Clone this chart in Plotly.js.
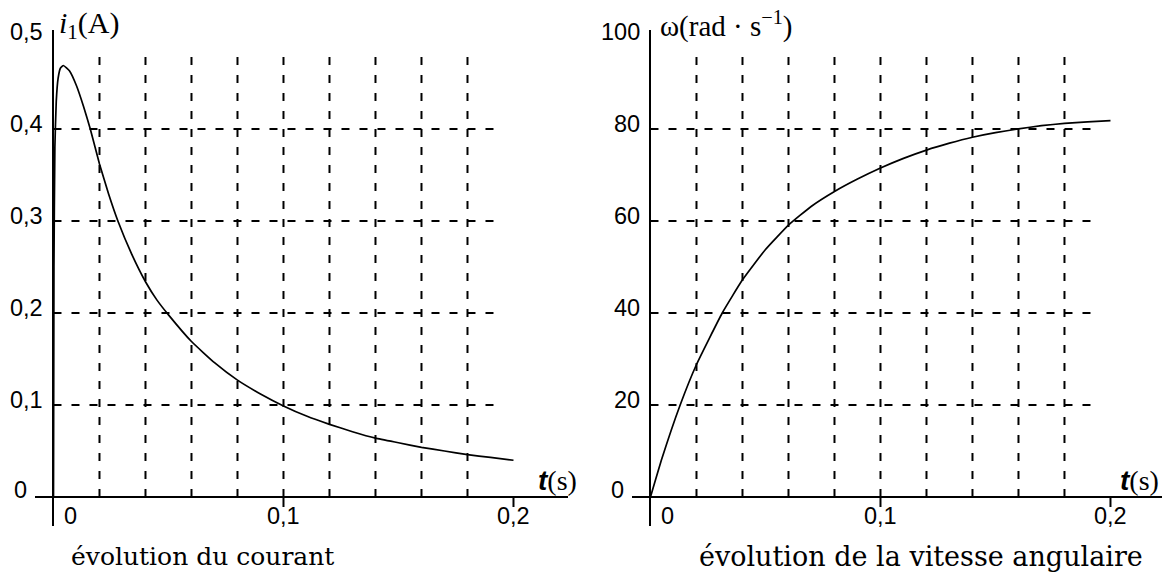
<!DOCTYPE html>
<html>
<head>
<meta charset="utf-8">
<script src="https://cdn.plot.ly/plotly-3.0.1.min.js"></script>
<style>html,body{margin:0;padding:0;background:#fff;}#chart{width:1164px;height:582px;}</style>
</head>
<body>
<div id="chart"></div>
<script>
// ---- Data ----
const tCurrent = [0, 0.0002, 0.0006, 0.0012, 0.002, 0.003, 0.0043, 0.007, 0.010, 0.013, 0.016, 0.020, 0.024, 0.028, 0.034, 0.040, 0.045, 0.050, 0.060, 0.070, 0.080, 0.090, 0.100, 0.110, 0.120, 0.130, 0.140, 0.150, 0.160, 0.170, 0.180, 0.190, 0.200];
const iCurrent = [0, 0.25, 0.38, 0.43, 0.455, 0.466, 0.469, 0.463, 0.447, 0.425, 0.400, 0.362, 0.329, 0.300, 0.264, 0.234, 0.214, 0.198, 0.169, 0.146, 0.127, 0.112, 0.099, 0.088, 0.079, 0.071, 0.064, 0.059, 0.054, 0.050, 0.046, 0.043, 0.040];

const tSpeed = [0, 0.005, 0.0129, 0.020, 0.0312, 0.040, 0.050, 0.060, 0.070, 0.080, 0.090, 0.100, 0.110, 0.120, 0.130, 0.140, 0.150, 0.160, 0.170, 0.180, 0.190, 0.200];
const omegaSpeed = [0, 8.4, 20, 28.8, 40, 47.2, 53.8, 59.1, 63.2, 66.4, 69.1, 71.5, 73.6, 75.4, 76.9, 78.2, 79.2, 80.0, 80.7, 81.2, 81.55, 81.8];

const gridT = [0.02, 0.04, 0.06, 0.08, 0.10, 0.12, 0.14, 0.16, 0.18];
const gridI = [0.1, 0.2, 0.3, 0.4];
const gridOmega = [20, 40, 60, 80];

const xTickVals = [0.1, 0.2];
const xTickText = ['0,1', '0,2'];
const iTickVals = [0.1, 0.2, 0.3, 0.4, 0.5];
const iTickText = ['0,1', '0,2', '0,3', '0,4', '0,5'];
const omegaTickVals = [20, 40, 60, 80, 100];
const omegaTickText = ['20', '40', '60', '80', '100'];

const captionLeft = 'évolution du courant';
const captionRight = 'évolution de la vitesse angulaire';

// ---- Styling ----
const W = 1164, H = 582;
const SANS = 'Liberation Sans, Arial, sans-serif';
const SERIF = 'Liberation Serif, Times New Roman, serif';
const CAPSERIF = 'DejaVu Serif, serif';
const tickFont = {family: SANS, size: 23.5, color: '#000'};
const dash = {color: '#000', width: 2, dash: '8px,10px'};

const traces = [
  {x: tCurrent, y: iCurrent, xaxis: 'x', yaxis: 'y', mode: 'lines',
   line: {color: '#000', width: 1.7, shape: 'spline', smoothing: 0.4}, hoverinfo: 'skip'},
  {x: tSpeed, y: omegaSpeed, xaxis: 'x2', yaxis: 'y2', mode: 'lines',
   line: {color: '#000', width: 1.7, shape: 'spline', smoothing: 0.4}, hoverinfo: 'skip'}
];

function axisBase(domain, range, anchor) {
  return {domain: domain, range: range, anchor: anchor, showgrid: false,
    zeroline: true, zerolinecolor: '#000', zerolinewidth: 2,
    showticklabels: false, ticks: '', showline: false, fixedrange: true};
}

const shapes = [];
const annotations = [];

function buildPanel(xa, ya, gridX, gridY, gridXTop, gridYRight, yTickVals, yTickText, tickLen) {
  gridX.forEach(v => shapes.push({type: 'line', xref: xa, yref: ya, x0: v, x1: v, y0: 0, y1: gridXTop, line: dash, layer: 'below'}));
  gridY.forEach(v => shapes.push({type: 'line', xref: xa, yref: ya, x0: 0, x1: gridYRight, y0: v, y1: v, line: dash, layer: 'below'}));
  xTickVals.forEach((v, k) => {
    shapes.push({type: 'line', xref: xa, yref: ya, x0: v, x1: v, y0: 0, y1: -tickLen, line: {color: '#000', width: 2}});
    annotations.push({xref: xa, yref: ya, x: v, y: 0, text: xTickText[k], showarrow: false, font: tickFont, xanchor: 'center', yanchor: 'middle', yshift: -19});
  });
  annotations.push({xref: xa, yref: ya, x: 0, y: 0, text: '0', showarrow: false, font: tickFont, xanchor: 'center', yanchor: 'middle', xshift: 17, yshift: -19});
  yTickVals.forEach((v, k) => {
    annotations.push({xref: xa, yref: ya, x: 0, y: v, text: yTickText[k], showarrow: false, font: tickFont, xanchor: 'right', yanchor: 'middle', xshift: -8, yshift: 5});
  });
  annotations.push({xref: xa, yref: ya, x: 0, y: 0, text: '0', showarrow: false, font: tickFont, xanchor: 'center', yanchor: 'middle', xshift: -33, yshift: 7});
}

buildPanel('x', 'y', gridT, gridI, 0.489, 0.1928, iTickVals, iTickText, 10 / 920);
buildPanel('x2', 'y2', gridT, gridOmega, 97.8, 0.192, omegaTickVals, omegaTickText, 10 / 4.6);

// axis titles
annotations.push({xref: 'paper', yref: 'paper', x: 57 / W, y: (H - 25) / H, xanchor: 'left', yanchor: 'middle', showarrow: false,
  text: '<i>i</i><sub>1</sub>(A)', font: {family: SERIF, size: 30, color: '#000'}});
annotations.push({xref: 'paper', yref: 'paper', x: 658 / W, y: (H - 25) / H, xanchor: 'left', yanchor: 'middle', showarrow: false,
  text: 'ω(rad · s<sup>−1</sup>)', font: {family: SERIF, size: 29, color: '#000'}});
const tLabel = '<span style="font-family:Liberation Sans;font-style:italic;font-weight:bold">t</span>(s)';
annotations.push({xref: 'paper', yref: 'paper', x: 579 / W, y: (H - 481) / H, xanchor: 'right', yanchor: 'middle', showarrow: false,
  text: tLabel, font: {family: SERIF, size: 28, color: '#000'}});
annotations.push({xref: 'paper', yref: 'paper', x: 1161 / W, y: (H - 481) / H, xanchor: 'right', yanchor: 'middle', showarrow: false,
  text: tLabel, font: {family: SERIF, size: 28, color: '#000'}});

// captions
annotations.push({xref: 'paper', yref: 'paper', x: 202 / W, y: (H - 556) / H, xanchor: 'center', yanchor: 'middle', showarrow: false,
  text: captionLeft, font: {family: CAPSERIF, size: 25, color: '#000'}});
annotations.push({xref: 'paper', yref: 'paper', x: 921 / W, y: (H - 556) / H, xanchor: 'center', yanchor: 'middle', showarrow: false,
  text: captionRight, font: {family: CAPSERIF, size: 27, color: '#000'}});

const layout = {
  width: W, height: H,
  margin: {l: 0, r: 0, t: 0, b: 0, pad: 0},
  paper_bgcolor: '#fff', plot_bgcolor: '#fff',
  showlegend: false,
  xaxis: axisBase([35 / W, 568 / W], [-0.00804, 0.2237], 'y'),
  yaxis: axisBase([56 / H, 552 / H], [-0.0315, 0.5076], 'x'),
  xaxis2: axisBase([632 / W, 1162 / W], [-0.00804, 0.2224], 'y2'),
  yaxis2: axisBase([56 / H, 552 / H], [-6.3, 101.5], 'x2'),
  shapes: shapes,
  annotations: annotations
};

Plotly.newPlot('chart', traces, layout, {staticPlot: true, displayModeBar: false});
</script>
</body>
</html>
